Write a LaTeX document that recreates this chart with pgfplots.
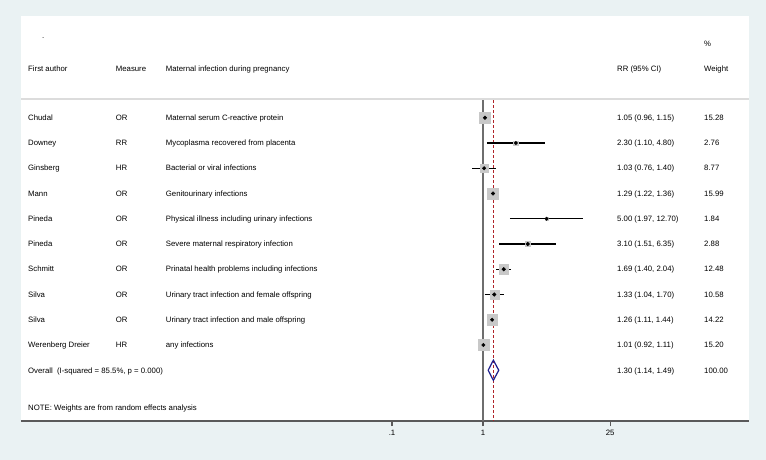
\documentclass[border=0pt]{standalone}
\usepackage{pgfplots}
\usepackage{pgfplotstable}
\usepackage{fontspec}
\setmainfont{Liberation Sans}
\pgfplotsset{compat=1.18}

\definecolor{bgcol}{RGB}{234,242,243}
\definecolor{boxgray}{RGB}{200,200,200}
\definecolor{linegray}{RGB}{110,110,110}
\definecolor{axgray}{RGB}{90,90,90}
\definecolor{sepgray}{RGB}{220,220,220}
\definecolor{refred}{RGB}{175,35,40}
\definecolor{dianavy}{RGB}{30,30,140}

% row est lo hi w
\pgfplotstableread{
row est lo hi w
1 1.05 0.96 1.15 15.28
2 2.30 1.10 4.80 2.76
3 1.03 0.76 1.40 8.77
4 1.29 1.22 1.36 15.99
5 5.00 1.97 12.70 1.84
6 3.10 1.51 6.35 2.88
7 1.69 1.40 2.04 12.48
8 1.33 1.04 1.70 10.58
9 1.26 1.11 1.44 14.22
10 1.01 0.92 1.11 15.20
}\studies

\begin{document}
\fontsize{7.8}{9.4}\selectfont
\begin{tikzpicture}[x=1bp,y=1bp]
\fill[bgcol] (0,0) rectangle (766,460);
\begin{axis}[
    at={(21bp,39bp)}, anchor=south west,
    scale only axis, width=728bp, height=405bp,
    xmode=log,
    xmin=8.375e-6, xmax=838,
    ymin=-3.03, ymax=13.01,
    y dir=reverse,
    axis background/.style={fill=white},
    axis x line*=bottom,
    axis y line=none,
    x axis line style={axgray, line width=1.4bp},
    xtick={0.1,1,25},
    xticklabels={.1,1,25},
    minor xtick={},
    tick align=outside,
    major tick length=5bp,
    x tick style={axgray, line width=1.2bp},
    xticklabel style={font=\fontsize{7.8}{9.4}\selectfont, yshift=-1bp},
    ytick=\empty,
    clip=false,
]
% reference lines
\addplot[linegray, line width=1.6bp] coordinates {(1,0.30) (1,13.01)};
\addplot[refred, line width=1bp, dash pattern=on 3bp off 2bp] coordinates {(1.30,0.30) (1.30,13.01)};

% weight boxes
\addplot[only marks, mark=square*, scatter, point meta=\thisrow{w},
    visualization depends on={1.37*sqrt(\thisrow{w}) \as \msz},
    scatter/use mapped color={draw=boxgray, fill=boxgray},
    scatter/@pre marker code/.append style={/tikz/mark size=\msz}]
    table[x=est, y=row] {\studies};

% confidence intervals
\addplot[black, line width=1.2bp] table {
x y
0.96 1
1.15 1

1.10 2
4.80 2

0.76 3
1.40 3

1.22 4
1.36 4

1.97 5
12.70 5

1.51 6
6.35 6

1.40 7
2.04 7

1.04 8
1.70 8

1.11 9
1.44 9

0.92 10
1.11 10
};

% point estimates
\addplot[only marks, mark=*, mark size=1.8bp, black] table[x=est, y=row] {\studies};

% overall diamond
\addplot[dianavy, line width=1.2bp] coordinates {
    (1.14,11) (1.30,10.6) (1.49,11) (1.30,11.4) (1.14,11)};
\end{axis}

\draw[sepgray, line width=1.3bp] (21,361) -- (749,361);

\tikzset{lab/.style={anchor=west, inner sep=0pt, text height=5.6bp, text depth=0pt}}
\node[lab] at (42,424) {.};
\node[lab] at (704,416) {\%};
\node[lab] at (28,391.5) {First author};
\node[lab] at (115.7,391.5) {Measure};
\node[lab] at (165.7,391.5) {Maternal infection during pregnancy};
\node[lab] at (617,391.5) {RR (95\% CI)};
\node[lab] at (704,391.5) {Weight};

\foreach \a/\m/\d/\e/\w [count=\i] in {
  Chudal/OR/{Maternal serum C-reactive protein}/{1.05 (0.96, 1.15)}/15.28,
  Downey/RR/{Mycoplasma recovered from placenta}/{2.30 (1.10, 4.80)}/2.76,
  Ginsberg/HR/{Bacterial or viral infections}/{1.03 (0.76, 1.40)}/8.77,
  Mann/OR/{Genitourinary infections}/{1.29 (1.22, 1.36)}/15.99,
  Pineda/OR/{Physical illness including urinary infections}/{5.00 (1.97, 12.70)}/1.84,
  Pineda/OR/{Severe maternal respiratory infection}/{3.10 (1.51, 6.35)}/2.88,
  Schmitt/OR/{Prinatal health problems including infections}/{1.69 (1.40, 2.04)}/12.48,
  Silva/OR/{Urinary tract infection and female offspring}/{1.33 (1.04, 1.70)}/10.58,
  Silva/OR/{Urinary tract infection and male offspring}/{1.26 (1.11, 1.44)}/14.22,
  {Werenberg Dreier}/HR/{any infections}/{1.01 (0.92, 1.11)}/15.20}{
  \pgfmathsetmacro\yy{460-117.7-25.25*(\i-1)}
  \node[lab] at (28,\yy) {\a};
  \node[lab] at (115.7,\yy) {\m};
  \node[lab] at (165.7,\yy) {\d};
  \node[lab] at (617,\yy) {\e};
  \node[lab] at (704,\yy) {\w};
}
\node[lab] at (28,89.7) {Overall\ \ (I-squared = 85.5\%, p = 0.000)};
\node[lab] at (617,89.7) {1.30 (1.14, 1.49)};
\node[lab] at (704,89.7) {100.00};
\node[lab] at (28,52) {NOTE: Weights are from random effects analysis};
\end{tikzpicture}
\end{document}
